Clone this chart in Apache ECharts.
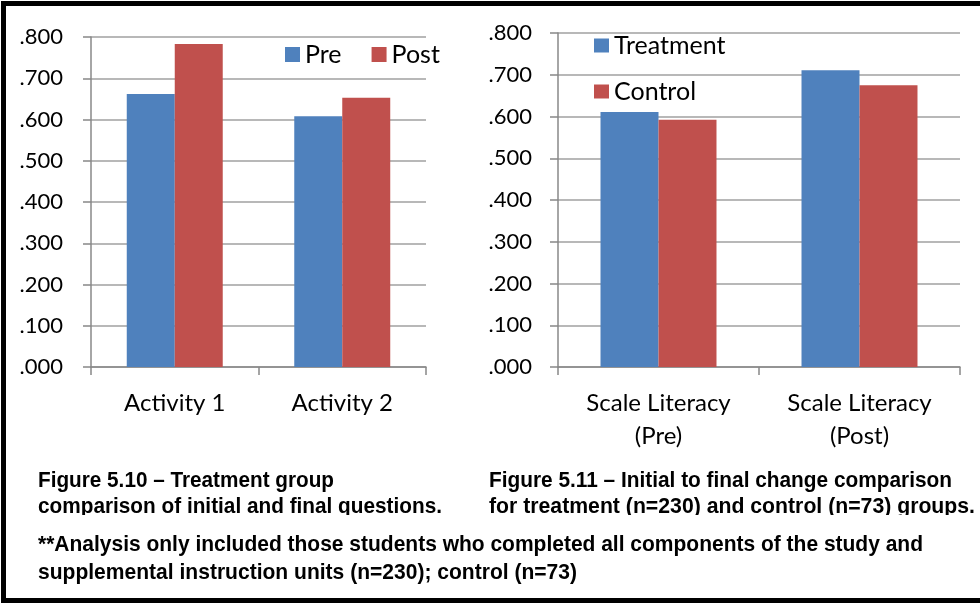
<!DOCTYPE html>
<html>
<head>
<meta charset="utf-8">
<script src="https://cdn.jsdelivr.net/npm/echarts@6/dist/echarts.min.js"></script>
<style>
html, body { margin: 0; padding: 0; background: #fff; }
#chart { width: 980px; height: 604px; }
</style>
</head>
<body>
<div id="chart"></div>
<script>
// ---- Data ----
const leftCategories = ['Activity 1', 'Activity 2'];
const leftSeriesNames = ['Pre', 'Post'];
const leftPre = [0.662, 0.608];
const leftPost = [0.783, 0.653];

const rightCategories = ['Scale Literacy\n(Pre)', 'Scale Literacy\n(Post)'];
const rightSeriesNames = ['Treatment', 'Control'];
const rightTreatment = [0.611, 0.711];
const rightControl = [0.592, 0.675];

const yMin = 0, yMax = 0.8, yInterval = 0.1;

const captionLeft = ['Figure 5.10 \u2013 Treatment group', 'comparison of initial and final questions.'];
const captionRight = ['Figure 5.11 \u2013 Initial to final change comparison', 'for treatment (n=230) and control (n=73) groups.'];
const footnote = ['**Analysis only included those students who completed all components of the study and', 'supplemental instruction units (n=230); control (n=73)'];

// ---- Styles ----
const BLUE = '#4F81BD', RED = '#C0504D';
const FONT = 'Lato, "Open Sans", sans-serif';
const CAP_FONT = 'bold 22px "Liberation Sans", Arial, sans-serif';
const fmt = v => v.toFixed(3).replace(/^0/, '');

// horizontal compression of the caption font (condensed look of the original)
const ctx = document.createElement('canvas').getContext('2d');
ctx.font = CAP_FONT;

function yAxis(gridIndex, margin) {
  return {
    type: 'value', gridIndex, min: yMin, max: yMax, interval: yInterval,
    axisLine: { show: true, lineStyle: { color: '#888', width: 1.5 } },
    axisTick: { show: true, length: 8, lineStyle: { color: '#888', width: 1.5 } },
    splitLine: { show: true, lineStyle: { color: '#a0a0a0', width: 1.5 } },
    axisLabel: { formatter: fmt, color: '#000', fontFamily: FONT, fontSize: 22, margin }
  };
}
function xAxis(gridIndex, data, lineHeight, margin) {
  return {
    type: 'category', gridIndex, data,
    axisLine: { show: true, lineStyle: { color: '#888', width: 1.5 } },
    axisTick: { show: true, length: 8, lineStyle: { color: '#888', width: 1.5 } },
    axisLabel: { color: '#000', fontFamily: FONT, fontSize: 24, margin, lineHeight }
  };
}
function caption(text, x, y, width) {
  const sx = width / ctx.measureText(text).width;
  return { type: 'text', x, y, z: 10, scaleX: sx, style: { text, font: CAP_FONT, fill: '#000', textVerticalAlign: 'middle' } };
}

const chart = echarts.init(document.getElementById('chart'), null, { renderer: 'canvas' });
chart.setOption({
  animation: false,
  backgroundColor: '#fff',
  grid: [
    { left: 91, right: 554, top: 37, bottom: 237 },
    { left: 558, right: 20, top: 33, bottom: 237 }
  ],
  xAxis: [xAxis(0, leftCategories, 28, 22), xAxis(1, rightCategories, 33, 20)],
  yAxis: [yAxis(0, 28), yAxis(1, 26)],
  legend: [
    {
      data: leftSeriesNames, left: 285, top: 42, orient: 'horizontal', itemGap: 30, padding: 0,
      itemWidth: 15, itemHeight: 15, icon: 'rect',
      textStyle: { fontFamily: FONT, fontSize: 25, color: '#000' }
    },
    {
      data: rightSeriesNames, left: 594, top: 33, orient: 'vertical', itemGap: 21, padding: 0,
      itemWidth: 15, itemHeight: 14, icon: 'rect',
      textStyle: { fontFamily: FONT, fontSize: 25, color: '#000' }
    }
  ],
  series: [
    { name: leftSeriesNames[0], type: 'bar', xAxisIndex: 0, yAxisIndex: 0, data: leftPre, itemStyle: { color: BLUE }, barGap: '0%', barCategoryGap: '42.7%' },
    { name: leftSeriesNames[1], type: 'bar', xAxisIndex: 0, yAxisIndex: 0, data: leftPost, itemStyle: { color: RED }, barGap: '0%', barCategoryGap: '42.7%' },
    { name: rightSeriesNames[0], type: 'bar', xAxisIndex: 1, yAxisIndex: 1, data: rightTreatment, itemStyle: { color: BLUE }, barGap: '0%', barCategoryGap: '42.3%' },
    { name: rightSeriesNames[1], type: 'bar', xAxisIndex: 1, yAxisIndex: 1, data: rightControl, itemStyle: { color: RED }, barGap: '0%', barCategoryGap: '42.3%' }
  ],
  graphic: [
    caption(captionLeft[0], 38, 481, 296),
    caption(captionLeft[1], 38, 507, 404),
    caption(captionRight[0], 489, 481, 463),
    caption(captionRight[1], 489, 507, 486),
    { type: 'rect', z: 11, shape: { x: 20, y: 515, width: 960, height: 15 }, style: { fill: '#fff' } },
    caption(footnote[0], 38, 545, 885),
    caption(footnote[1], 38, 573, 539),
    { type: 'rect', z: 20, shape: { x: 3.5, y: 3.5, width: 1000, height: 597 }, style: { fill: 'none', stroke: '#000', lineWidth: 5 } }
  ]
});
</script>
</body>
</html>
